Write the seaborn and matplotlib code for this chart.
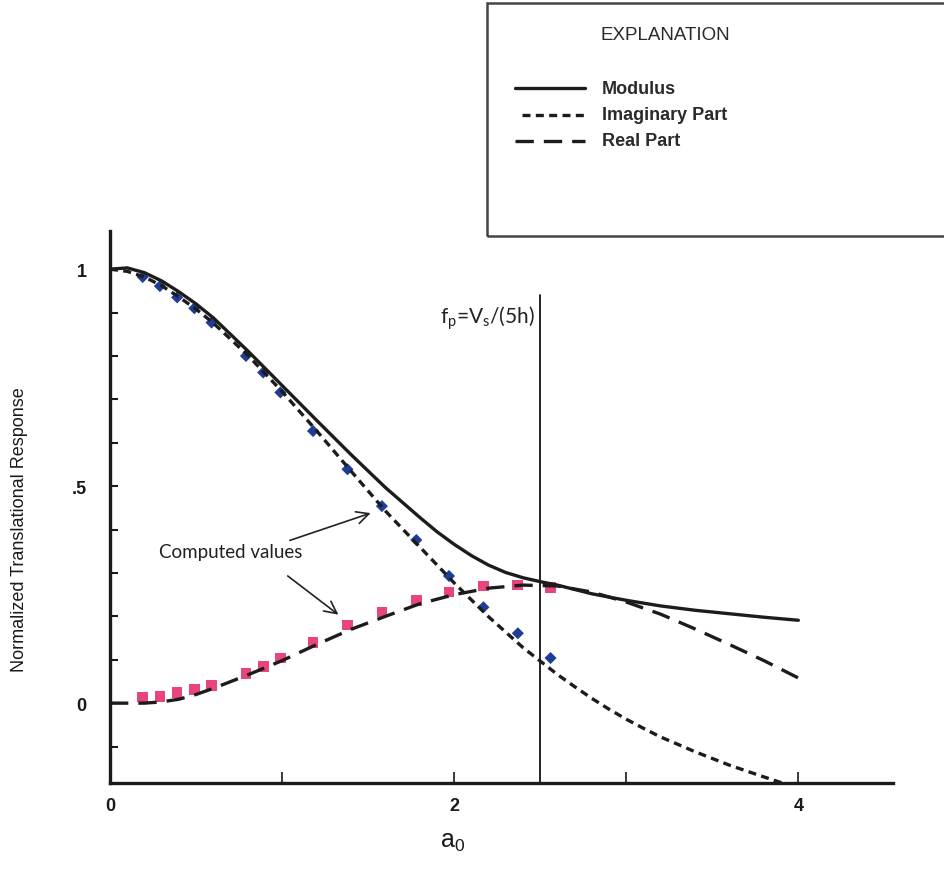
import numpy as np
import pandas as pd
import matplotlib
matplotlib.use("Agg")
import matplotlib.pyplot as plt
from matplotlib.lines import Line2D
from matplotlib.patches import Rectangle
import seaborn as sns

# ---------------- data ----------------
a_mod = [0.0, 0.1, 0.2, 0.3, 0.4, 0.5, 0.6, 0.8, 1.0, 1.2, 1.4, 1.6, 1.8, 1.9, 2.0,
         2.1, 2.2, 2.3, 2.4, 2.5, 2.6, 2.8, 3.0, 3.2, 3.4, 3.6, 3.8, 4.0]
modulus = [1.0, 1.003, 0.992, 0.973, 0.948, 0.92, 0.888, 0.812, 0.732, 0.652,
           0.573, 0.497, 0.428, 0.395, 0.366, 0.340, 0.318, 0.301, 0.289, 0.280,
           0.272, 0.252, 0.237, 0.224, 0.214, 0.206, 0.198, 0.191]

a_imag = [0.0, 0.1, 0.2, 0.3, 0.4, 0.5, 0.6, 0.8, 1.0, 1.2, 1.4, 1.6, 1.8, 2.0,
          2.2, 2.4, 2.6, 2.7, 2.8, 2.9, 3.0, 3.1, 3.2, 3.4, 3.6, 3.8, 3.93]
imaginary = [1.0, 0.995, 0.982, 0.962, 0.936, 0.908, 0.876, 0.802, 0.718, 0.628,
             0.535, 0.443, 0.360, 0.277, 0.199, 0.128, 0.066, 0.038, 0.011, -0.014,
             -0.037, -0.058, -0.078, -0.112, -0.143, -0.170, -0.187]

a_real = [0.0, 0.2, 0.3, 0.4, 0.5, 0.6, 0.8, 1.0, 1.2, 1.4, 1.6, 1.8, 2.0, 2.2,
          2.4, 2.6, 2.8, 3.0, 3.2, 3.4, 3.6, 3.8, 4.0]
real = [0.0, 0.0, 0.003, 0.009, 0.02, 0.034, 0.065, 0.098, 0.135, 0.17, 0.2,
        0.229, 0.25, 0.265, 0.272, 0.27, 0.256, 0.233, 0.205, 0.171, 0.135,
        0.098, 0.058]

a_comp = [0.19, 0.29, 0.39, 0.49, 0.59, 0.79, 0.89, 0.99, 1.18, 1.38, 1.58,
          1.78, 1.97, 2.17, 2.37, 2.56]
comp_imag = [0.982, 0.961, 0.935, 0.910, 0.877, 0.800, 0.762, 0.716, 0.627,
             0.539, 0.454, 0.376, 0.293, 0.221, 0.161, 0.104]
comp_real = [0.014, 0.016, 0.025, 0.032, 0.041, 0.069, 0.085, 0.104, 0.14,
             0.18, 0.21, 0.237, 0.256, 0.27, 0.272, 0.267]

x_ticks = [0, 1, 2, 3, 4]
x_ticklabels = ["0", "", "2", "", "4"]
y_ticks = [-0.1, 0.0, 0.1, 0.2, 0.3, 0.4, 0.5, 0.6, 0.7, 0.8, 0.9, 1.0]
y_ticklabels = ["", "0", "", "", "", "", ".5", "", "", "", "", "1"]

fp_a0 = 2.5
fp_top = 0.94

legend_labels = ["Modulus", "Imaginary Part", "Real Part"]

# ---------------- styling ----------------
sns.set_style("white")
plt.rcParams["font.family"] = ["Liberation Sans", "DejaVu Sans"]
plt.rcParams["mathtext.fontset"] = "custom"
plt.rcParams["mathtext.rm"] = "Liberation Sans"
plt.rcParams["mathtext.it"] = "Liberation Sans"

W, H = 944, 870
fig = plt.figure(figsize=(W / 100, H / 100), dpi=100)
fig.patch.set_facecolor("white")
ax = fig.add_axes([110 / W, 1 - 784 / H, (893 - 110) / W, (784 - 232) / H])
ax.set_facecolor("white")

line_col = "#1c1c1c"
lw = 2.4
dot_dash = (2.4, 1.6)
long_dash = (5.5, 3.0)

# computed values (markers)
sns.scatterplot(x=a_comp, y=comp_imag, ax=ax, marker="D", s=38, color="#1f3d96",
                edgecolor="none", zorder=2)
sns.scatterplot(x=a_comp, y=comp_real, ax=ax, marker="s", s=60, color="#e8457c",
                edgecolor="none", zorder=2)

# curves
sns.lineplot(x=a_mod, y=modulus, ax=ax, color=line_col, lw=lw, zorder=3,
             sort=False, estimator=None)
l_im = sns.lineplot(x=a_imag, y=imaginary, ax=ax, color=line_col, lw=lw, zorder=3,
                    sort=False, estimator=None).lines[-1]
l_im.set_dashes(dot_dash)
l_re = sns.lineplot(x=a_real, y=real, ax=ax, color=line_col, lw=lw, zorder=3,
                    sort=False, estimator=None).lines[-1]
l_re.set_dashes(long_dash)
for ln in ax.lines:
    ln.set_solid_joinstyle("round")
    ln.set_dash_joinstyle("round")

# vertical line at fp
ax.plot([fp_a0, fp_a0], [-0.3, fp_top], color="#111111", lw=1.3, zorder=1)
ax.text(2.47, 0.89, r"f$_\mathregular{p}$=V$_\mathregular{s}$/(5h)",
        ha="right", va="center", fontsize=15, family=["Lato", "DejaVu Sans"],
        color="#222222")

# annotation
ax.text(0.70, 0.35, "Computed values", ha="center", va="center", fontsize=13.5,
        family=["Lato", "DejaVu Sans"], color="#222222")
ax.annotate("", xy=(1.53, 0.44), xytext=(1.03, 0.373),
            arrowprops=dict(arrowstyle="->", lw=1.2, color="#222222",
                            mutation_scale=22))
ax.annotate("", xy=(1.34, 0.2), xytext=(1.02, 0.297),
            arrowprops=dict(arrowstyle="->", lw=1.2, color="#222222",
                            mutation_scale=22))

# axes limits / spines / ticks
ax.set_xlim(0, 4.55)
ax.set_ylim(-0.184, 1.088)
for s in ["top", "right"]:
    ax.spines[s].set_visible(False)
for s in ["left", "bottom"]:
    ax.spines[s].set_linewidth(2.4)
    ax.spines[s].set_color("#1a1a1a")

ax.set_xticks(x_ticks)
ax.set_xticklabels(x_ticklabels)
ax.set_yticks(y_ticks)
ax.set_yticklabels(y_ticklabels)
ax.tick_params(axis="x", bottom=True, direction="in", length=8, width=1.2, pad=10,
               labelsize=13, colors="#1a1a1a")
ax.tick_params(axis="y", left=True, direction="in", length=6, width=1.5, pad=17,
               labelsize=13, colors="#1a1a1a")
for t in ax.get_xticklabels() + ax.get_yticklabels():
    t.set_fontweight("bold")

ax.set_xlabel("")
ax.set_ylabel("")
fig.text(453 / W, 1 - 842 / H, r"a$_\mathregular{0}$", ha="center", va="center",
         fontsize=18, color="#1a1a1a")
fig.text(20 / W, 1 - 530 / H, "Normalized Translational Response", rotation=90,
         ha="center", va="center", fontsize=13, color="#1a1a1a")

# legend box (EXPLANATION)
fig.patches.append(Rectangle((487 / W, 1 - 237 / H), (960 - 487) / W, (237 - 4) / H,
                             transform=fig.transFigure, fill=False,
                             edgecolor="#444444", lw=1.8, figure=fig))
fig.text(600 / W, 1 - 36 / H, "EXPLANATION", ha="left", va="center", fontsize=13.5,
         color="#2a2a2a")
leg_y = [89, 116, 142]
leg_x0 = [515, 522, 515]
leg_dash = [None, dot_dash, long_dash]
for lab, yy, x0, dsh in zip(legend_labels, leg_y, leg_x0, leg_dash):
    ln = Line2D([x0 / W, 585 / W], [1 - yy / H, 1 - yy / H], transform=fig.transFigure,
                color=line_col, lw=lw)
    if dsh is not None:
        ln.set_dashes(dsh)
    fig.lines.append(ln)
    fig.text(602 / W, 1 - yy / H, lab, ha="left", va="center", fontsize=13,
             fontweight="bold", color="#2a2a2a")

fig.savefig("out.png", dpi=100, facecolor="white")
